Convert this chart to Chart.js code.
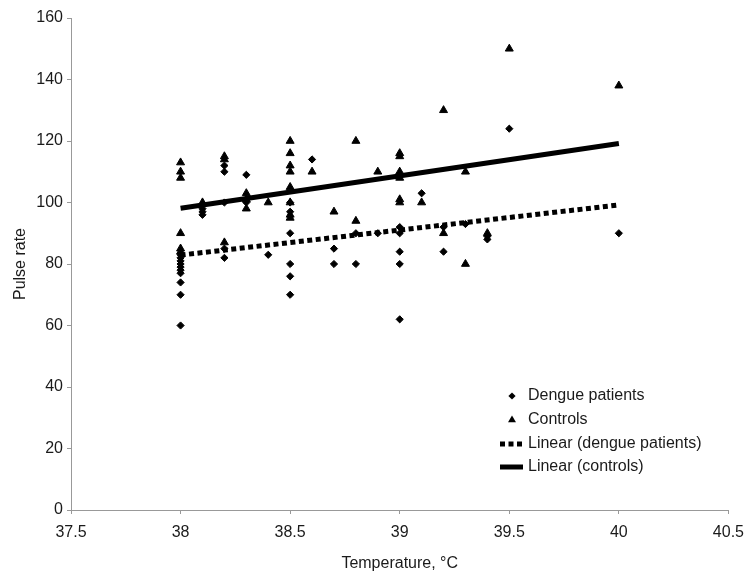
<!DOCTYPE html>
<html>
<head>
<meta charset="utf-8">
<script src="https://cdn.jsdelivr.net/npm/chart.js@4.4.1/dist/chart.umd.min.js"></script>
<style>
  html, body { margin: 0; padding: 0; background: #fff; }
</style>
</head>
<body>
<canvas id="pulseChart" width="753" height="575"></canvas>
<script>
// dengue patients: temperature (°C) and pulse rate
const dengueTemp = [38, 38, 38, 38, 38, 38, 38, 38, 38, 38,
  38.1, 38.1, 38.1,
  38.2, 38.2, 38.2, 38.2, 38.2,
  38.3, 38.3,
  38.4,
  38.5, 38.5, 38.5, 38.5, 38.5, 38.5,
  38.6,
  38.7, 38.7,
  38.8, 38.8,
  38.9,
  39, 39, 39, 39, 39,
  39.1,
  39.2, 39.2,
  39.3,
  39.4, 39.4,
  39.5,
  40];
const denguePulse = [60, 70, 74, 77, 78, 79, 80, 81, 82, 83,
  98, 97, 96,
  112, 110, 100, 85, 82,
  109, 100,
  83,
  100, 97, 90, 80, 76, 70,
  114,
  85, 80,
  90, 80,
  90,
  92, 90, 84, 80, 62,
  103,
  92, 84,
  93,
  89, 88,
  124,
  90];

// controls
const controlTemp = [38, 38, 38, 38, 38, 38,
  38.1,
  38.2, 38.2, 38.2,
  38.3, 38.3, 38.3,
  38.4,
  38.5, 38.5, 38.5, 38.5, 38.5, 38.5, 38.5, 38.5,
  38.6,
  38.7,
  38.8, 38.8,
  38.9,
  39, 39, 39, 39, 39, 39,
  39.1,
  39.2, 39.2,
  39.3, 39.3,
  39.4,
  39.5,
  40];
const controlPulse = [113, 110, 108, 90, 85, 84,
  100,
  115, 114, 87,
  103, 101, 98,
  100,
  120, 116, 112, 110, 105, 100, 96, 95,
  110,
  97,
  120, 94,
  110,
  116, 115, 110, 108, 101, 100,
  100,
  130, 90,
  110, 80,
  90,
  150,
  138];

// linear trend lines (end points)
const trendTemp = [38, 40];
const dengueTrend = [82.9, 99.2];
const controlTrend = [98.1, 119.2];

// axis ticks
const xTicks = [37.5, 38, 38.5, 39, 39.5, 40.5 - 0.5, 40.5];
const yTicks = [0, 20, 40, 60, 80, 100, 120, 140, 160];

const toPoints = (xs, ys) => xs.map((x, i) => ({ x: x, y: ys[i] }));

const FONT = '"Liberation Sans", Arial, Helvetica, sans-serif';
Chart.defaults.font.family = FONT;
Chart.defaults.font.size = 16;
Chart.defaults.color = '#1a1a1a';

// legend drawn inside the plot, bottom right
const insideLegend = {
  id: 'insideLegend',
  afterDraw(chart) {
    const ctx = chart.ctx;
    const rows = [396, 420, 444, 467];
    const markX = 512, lineFrom = 500, lineTo = 523, textX = 528;
    ctx.save();
    ctx.font = '16px ' + FONT;
    ctx.textBaseline = 'middle';
    ctx.fillStyle = '#1a1a1a';
    chart.data.datasets.forEach((ds, i) => {
      const y = rows[i];
      ctx.fillStyle = '#000';
      ctx.strokeStyle = '#000';
      if (ds.showLine) {
        ctx.lineWidth = ds.borderWidth;
        ctx.setLineDash(ds.borderDash || []);
        ctx.beginPath();
        ctx.moveTo(lineFrom, y);
        ctx.lineTo(lineTo, y);
        ctx.stroke();
        ctx.setLineDash([]);
      } else if (ds.pointStyle === 'rectRot') {
        const r = ds.pointRadius;
        ctx.beginPath();
        ctx.moveTo(markX - r, y);
        ctx.lineTo(markX, y - r);
        ctx.lineTo(markX + r, y);
        ctx.lineTo(markX, y + r);
        ctx.closePath();
        ctx.fill();
      } else {
        const r = ds.pointRadius;
        ctx.beginPath();
        ctx.moveTo(markX, y - r);
        ctx.lineTo(markX + r * 0.866, y + r * 0.5);
        ctx.lineTo(markX - r * 0.866, y + r * 0.5);
        ctx.closePath();
        ctx.fill();
      }
      ctx.fillStyle = '#1a1a1a';
      ctx.fillText(ds.label, textX, y);
    });
    ctx.restore();
  }
};

const ctx = document.getElementById('pulseChart').getContext('2d');
const pulseChart = new Chart(ctx, {
  type: 'scatter',
  data: {
    datasets: [{
      label: 'Dengue patients',
      data: toPoints(dengueTemp, denguePulse),
      pointStyle: 'rectRot',
      pointRadius: 3.6,
      backgroundColor: '#000',
      borderColor: '#000',
      borderWidth: 1,
      order: 2
    }, {
      label: 'Controls',
      data: toPoints(controlTemp, controlPulse),
      pointStyle: 'triangle',
      pointRadius: 4.6,
      backgroundColor: '#000',
      borderColor: '#000',
      borderWidth: 1,
      order: 2
    }, {
      label: 'Linear (dengue patients)',
      data: toPoints(trendTemp, dengueTrend),
      showLine: true,
      pointRadius: 0,
      borderColor: '#000',
      borderWidth: 5,
      borderDash: [5, 3.5],
      borderCapStyle: 'butt',
      order: 1
    }, {
      label: 'Linear (controls)',
      data: toPoints(trendTemp, controlTrend),
      showLine: true,
      pointRadius: 0,
      borderColor: '#000',
      borderWidth: 5,
      borderCapStyle: 'butt',
      order: 1
    }]
  },
  options: {
    responsive: false,
    animation: false,
    layout: { padding: { left: 0, right: 19, top: 18, bottom: 0 } },
    plugins: {
      legend: { display: false },
      tooltip: { enabled: false }
    },
    scales: {
      x: {
        type: 'linear',
        min: 37.5,
        max: 40.5,
        afterBuildTicks: (scale) => { scale.ticks = xTicks.map(v => ({ value: v })); },
        afterFit: (scale) => { scale.height = 65; },
        ticks: { padding: 9, callback: (v) => String(v), maxRotation: 0, autoSkip: false },
        grid: { drawOnChartArea: false, drawTicks: true, tickLength: 4, color: '#999' },
        border: { display: true, color: '#999', width: 1 },
        title: { display: true, text: 'Temperature, °C', padding: { top: 0, bottom: 2 } }
      },
      y: {
        type: 'linear',
        min: 0,
        max: 160,
        afterBuildTicks: (scale) => { scale.ticks = yTicks.map(v => ({ value: v })); },
        afterFit: (scale) => { scale.width = 71; },
        ticks: { padding: 4, callback: (v) => String(v) },
        grid: { drawOnChartArea: false, drawTicks: true, tickLength: 4, color: '#999' },
        border: { display: true, color: '#999', width: 1 },
        title: { display: true, text: 'Pulse rate', padding: { top: 11, bottom: 0 } }
      }
    }
  },
  plugins: [insideLegend]
});
</script>
</body>
</html>
